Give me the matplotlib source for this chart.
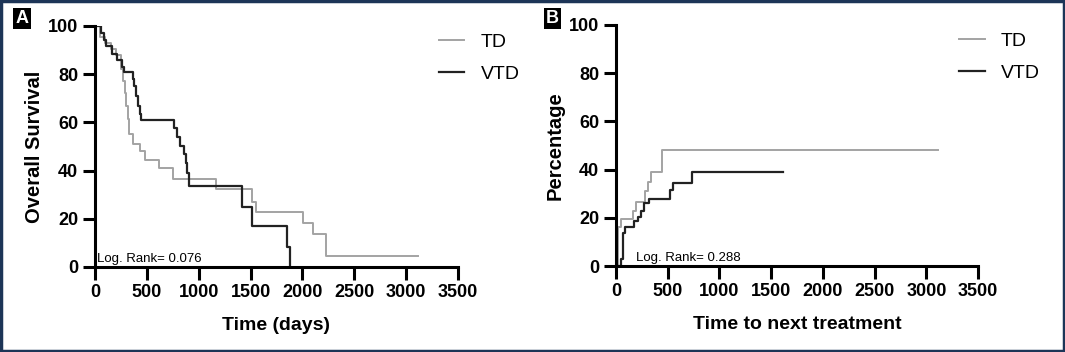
import matplotlib
matplotlib.use("Agg")
import matplotlib.pyplot as plt
from matplotlib.patches import Rectangle

plt.rcParams['font.family'] = ['Liberation Sans', 'DejaVu Sans']

# Panel A: overall survival (Kaplan-Meier steps)
os_td_t = [0, 45, 100, 150, 200, 255, 270, 285, 300, 315, 330, 370, 435, 480, 615, 750, 1170, 1510, 1555, 2005, 2100, 2230, 3110]
os_td_v = [100, 95.5, 93, 90.5, 88, 82, 77, 72, 67, 61.5, 55, 51, 48, 44.5, 41, 36.5, 32.3, 27, 22.7, 18.2, 13.6, 4.5, 4.5]
os_vtd_t = [0, 60, 85, 110, 160, 210, 260, 275, 365, 375, 395, 410, 430, 445, 760, 790, 815, 860, 875, 890, 905, 1415, 1510, 1850, 1880]
os_vtd_v = [100, 97, 94, 91.5, 88.5, 86, 83, 81, 78, 75, 71, 67, 63.5, 61, 57.5, 54, 50, 47, 43, 39, 33.5, 25, 17, 8.5, 0]

# Panel B: time to next treatment (cumulative)
ttnt_td_t = [0, 20, 45, 160, 195, 285, 305, 340, 445, 3110]
ttnt_td_v = [0, 16, 19.5, 23, 26.5, 31, 35, 39, 48, 48]
ttnt_vtd_t = [0, 45, 70, 90, 175, 210, 240, 275, 320, 520, 555, 735, 1615]
ttnt_vtd_v = [0, 3, 13.5, 16, 18.5, 20.5, 23, 26, 28, 31.5, 34.5, 39, 39]

groups = ["TD", "VTD"]
log_rank = ["Log. Rank= 0.076", "Log. Rank= 0.288"]
log_rank_x = [20, 190]
y_labels = ["Overall Survival", "Percentage"]
x_labels = ["Time (days)", "Time to next treatment"]
panel_tags = ["A", "B"]

gray = "#a3a3a3"
dark = "#222222"

fig = plt.figure(figsize=(10.65, 3.52), dpi=100)
ax1 = fig.add_axes([0.0892, 0.2415, 0.3408, 0.6847])
ax2 = fig.add_axes([0.5784, 0.2443, 0.3400, 0.6847])

data = [((os_td_t, os_td_v), (os_vtd_t, os_vtd_v)),
        ((ttnt_td_t, ttnt_td_v), (ttnt_vtd_t, ttnt_vtd_v))]

for i, ax in enumerate([ax1, ax2]):
    (t1, v1), (t2, v2) = data[i]
    ax.step(t1, v1, where='post', color=gray, lw=1.4, label=groups[0])
    ax.step(t2, v2, where='post', color=dark, lw=1.6, label=groups[1])
    ax.set_xlim(0, 3500)
    ax.set_ylim(0, 100)
    ax.set_xticks(range(0, 3501, 500))
    ax.set_yticks(range(0, 101, 20))
    for s in ['top', 'right']:
        ax.spines[s].set_visible(False)
    for s in ['left', 'bottom']:
        ax.spines[s].set_linewidth(2.2)
    ax.tick_params(width=2.2, length=9, labelsize=13, pad=3)
    for lab in ax.get_xticklabels() + ax.get_yticklabels():
        lab.set_fontweight('bold')
    ax.set_xlabel(x_labels[i], fontsize=14, fontweight='bold', labelpad=12)
    ax.set_ylabel(y_labels[i], fontsize=14.5, fontweight='bold', labelpad=3)
    ax.text(log_rank_x[i], 2, log_rank[i], fontsize=9.5)
    ax.legend(loc='upper left', bbox_to_anchor=(0.948, 0.97), frameon=False,
              fontsize=14, handlelength=1.3, handletextpad=0.85, labelspacing=0.75,
              borderpad=0, borderaxespad=0)

fig.text(0.0145, 0.935, panel_tags[0], fontsize=13, fontweight='bold', color='white',
         bbox=dict(boxstyle='square,pad=0.12', fc='black', ec='none'))
fig.text(0.5125, 0.935, panel_tags[1], fontsize=13, fontweight='bold', color='white',
         bbox=dict(boxstyle='square,pad=0.12', fc='black', ec='none'))

fig.patches.append(Rectangle((0.001, 0.002), 0.998, 0.996, transform=fig.transFigure,
                             fill=False, ec='#1d3557', lw=2.5))

fig.savefig("out.png", dpi=100)
